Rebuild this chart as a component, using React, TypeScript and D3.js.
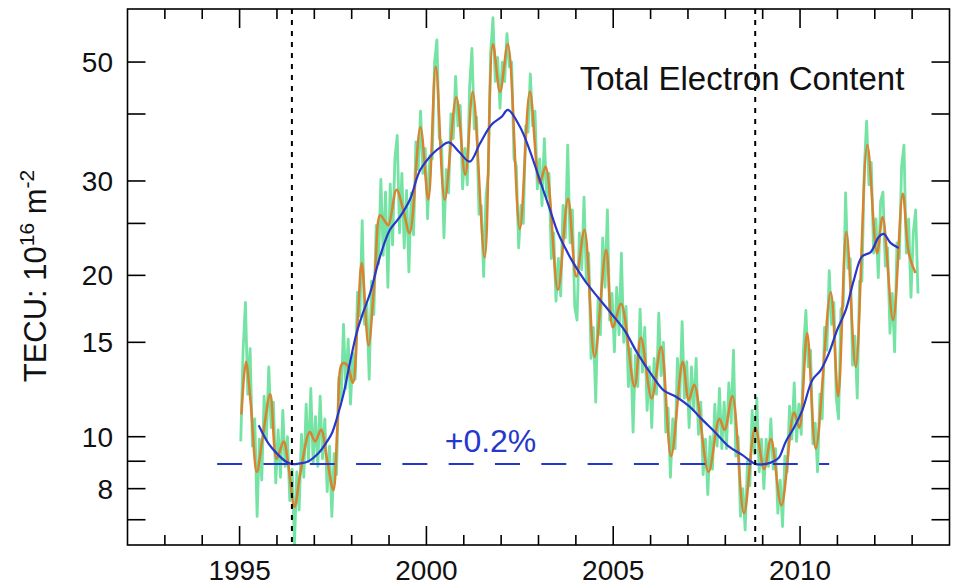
import React from "react";
import * as d3 from "d3";

// ---- data -------------------------------------------------------------
const xDomain: [number, number] = [1992, 2014];
const yDomain: [number, number] = [6.28, 62.8];

const xMinorTicks = [1993, 1994, 1995, 1996, 1997, 1998, 1999, 2000, 2001, 2002, 2003, 2004, 2005, 2006, 2007, 2008, 2009, 2010, 2011, 2012, 2013];
const xMajorTicks = [1995, 2000, 2005, 2010];
const yTicks = [7, 8, 9, 10, 15, 20, 25, 30, 40, 50];
const yTickLabels = [8, 10, 15, 20, 30, 50];

// Daily-ish TEC, 16 samples per year (sample k at year + (k + 0.5) / 16)
const samplesPerYear = 16;
const tec1995 = [9.8, 14.5, 17.8, 12.0, 14.6, 9.6, 10.8, 7.1, 9.9, 8.3, 11.9, 9.9, 13.5, 10.4, 11.6, 8.2];
const tec1996 = [10.3, 8.4, 11.2, 8.8, 10.0, 7.6, 8.7, 6.3, 8.6, 7.3, 10.1, 8.4, 11.5, 9.0, 12.3, 8.9];
const tec1997 = [10.9, 8.8, 11.9, 9.1, 10.8, 7.9, 9.6, 7.1, 9.3, 8.5, 12.9, 11.7, 16.2, 12.3, 15.2, 11.5];
const tec1998 = [14.3, 12.8, 18.6, 16.8, 25.3, 16.2, 17.7, 12.8, 19.5, 16.9, 24.8, 21.0, 30.2, 21.8, 28.6, 19.0];
const tec1999 = [29.6, 22.8, 33.0, 36.5, 24.0, 31.0, 22.5, 28.8, 20.3, 28.5, 23.8, 35.5, 31.5, 40.5, 31.0, 34.5];
const tec2000 = [25.5, 33.5, 33.0, 50.0, 55.0, 36.0, 35.5, 23.5, 31.5, 28.5, 40.0, 36.0, 47.0, 38.0, 41.5, 29.0];
const tec2001 = [34.5, 29.5, 45.0, 53.0, 37.5, 39.5, 26.0, 27.0, 19.9, 28.0, 31.0, 52.0, 60.5, 46.0, 51.0, 41.0];
const tec2002 = [50.0, 46.0, 56.5, 49.0, 50.0, 33.0, 32.0, 22.5, 27.0, 25.0, 38.0, 37.0, 47.5, 38.0, 40.5, 29.0];
const tec2003 = [33.0, 27.0, 36.0, 28.0, 31.0, 21.5, 24.0, 17.9, 21.5, 18.3, 27.0, 23.5, 35.0, 23.0, 26.5, 17.5];
const tec2004 = [16.5, 24.0, 20.5, 28.0, 19.5, 22.0, 14.0, 16.0, 11.6, 18.0, 15.5, 23.5, 19.0, 26.5, 16.5, 18.5];
const tec2005 = [14.4, 19.0, 15.5, 22.0, 15.0, 17.5, 12.4, 14.6, 10.2, 14.2, 12.4, 17.3, 13.2, 16.0, 11.2, 13.5];
const tec2006 = [10.4, 14.0, 12.0, 17.0, 13.0, 15.0, 10.2, 11.3, 8.4, 10.8, 9.5, 14.0, 11.8, 16.4, 11.8, 13.8];
const tec2007 = [10.4, 13.5, 11.2, 14.0, 10.1, 11.6, 8.5, 9.9, 7.8, 10.0, 8.7, 11.5, 9.6, 12.3, 9.5, 11.6];
const tec2008 = [9.5, 12.6, 10.6, 14.5, 9.2, 10.0, 7.1, 8.0, 6.7, 9.0, 8.1, 11.2, 9.3, 11.8, 8.6, 9.9];
const tec2009 = [8.0, 9.9, 8.8, 10.8, 8.7, 9.5, 7.2, 8.3, 6.8, 9.2, 8.6, 11.4, 9.9, 12.6, 9.8, 11.5];
const tec2010 = [10.1, 14.6, 17.2, 13.5, 14.5, 9.7, 10.6, 8.6, 12.0, 10.8, 16.0, 14.5, 20.4, 16.2, 17.8, 11.8];
const tec2011 = [10.8, 17.3, 17.5, 28.5, 20.6, 21.5, 13.6, 15.4, 11.8, 19.5, 19.5, 31.5, 38.8, 29.5, 32.5, 22.0];
const tec2012 = [25.5, 19.8, 27.5, 28.6, 20.8, 22.5, 15.6, 18.5, 14.4, 23.0, 21.5, 32.0, 35.0, 22.0, 25.5, 18.2];
const tec2013 = [24.0, 26.5, 18.5];

const dailyByYear: [number, number[]][] = [
  [1995, tec1995], [1996, tec1996], [1997, tec1997], [1998, tec1998], [1999, tec1999],
  [2000, tec2000], [2001, tec2001], [2002, tec2002], [2003, tec2003], [2004, tec2004],
  [2005, tec2005], [2006, tec2006], [2007, tec2007], [2008, tec2008], [2009, tec2009],
  [2010, tec2010], [2011, tec2011], [2012, tec2012], [2013, tec2013],
];

// Monthly smoothed TEC (year, TECU)
const monthlyTec: [number, number][] = [
  [1995.05, 11.0], [1995.17, 13.8], [1995.30, 11.5], [1995.46, 8.6], [1995.62, 10.0], [1995.82, 12.0],
  [1995.99, 9.1], [1996.18, 9.8], [1996.30, 8.9], [1996.47, 7.4], [1996.62, 8.5], [1996.88, 10.2],
  [1997.02, 9.8], [1997.18, 10.3], [1997.35, 9.0], [1997.51, 7.95], [1997.62, 10.5], [1997.75, 13.7],
  [1997.88, 13.6], [1998.03, 12.6], [1998.15, 16.0], [1998.27, 21.1], [1998.45, 14.8], [1998.62, 20.0],
  [1998.76, 25.9], [1998.88, 25.3], [1998.98, 24.8], [1999.20, 28.9], [1999.38, 26.5], [1999.55, 24.0],
  [1999.84, 37.8], [2000.05, 27.7], [2000.25, 49.0], [2000.49, 27.7], [2000.80, 43.0], [2001.04, 30.8],
  [2001.24, 44.0], [2001.56, 21.6], [2001.78, 54.0], [2001.97, 44.0], [2002.18, 54.0], [2002.50, 24.4],
  [2002.77, 44.0], [2003.03, 29.7], [2003.19, 31.9], [2003.52, 18.8], [2003.79, 27.8], [2004.01, 19.9],
  [2004.23, 24.3], [2004.50, 14.1], [2004.81, 22.3], [2004.99, 16.0], [2005.21, 17.7], [2005.57, 12.4],
  [2005.74, 15.3], [2006.03, 11.8], [2006.28, 14.7], [2006.55, 9.2], [2006.86, 13.8], [2007.02, 11.7],
  [2007.17, 12.5], [2007.55, 8.6], [2007.84, 10.8], [2007.98, 10.3], [2008.19, 11.9], [2008.50, 7.2],
  [2008.80, 10.4], [2009.04, 8.7], [2009.22, 9.9], [2009.50, 7.45], [2009.84, 11.1], [2009.98, 10.4],
  [2010.19, 15.6], [2010.42, 9.5], [2010.82, 18.6], [2011.02, 11.9], [2011.24, 24.1], [2011.49, 13.5],
  [2011.80, 35.0], [2012.06, 22.0], [2012.21, 25.7], [2012.49, 16.5], [2012.75, 28.4], [2012.91, 22.0],
  [2013.09, 20.2],
];

// 12-month running mean (year, TECU)
const runningMean: [number, number][] = [
  [1995.51, 10.5], [1995.77, 9.72], [1996.04, 9.24], [1996.25, 8.98], [1996.4, 8.89], [1996.6, 8.91],
  [1996.85, 9.0], [1997.1, 9.3], [1997.3, 9.7], [1997.47, 10.15], [1997.6, 10.8], [1997.78, 12.0],
  [1997.95, 13.7], [1998.13, 15.6], [1998.3, 17.0], [1998.49, 18.5], [1998.76, 21.7], [1999.02, 24.3],
  [1999.29, 25.7], [1999.56, 27.7], [1999.83, 31.4], [2000.18, 33.8], [2000.38, 34.7], [2000.6, 35.4],
  [2000.89, 33.9], [2001.16, 32.6], [2001.43, 35.2], [2001.74, 38.2], [2002.01, 39.5], [2002.18, 40.7],
  [2002.5, 37.9], [2002.76, 34.3], [2003.03, 30.2], [2003.3, 26.6], [2003.52, 24.0], [2003.7, 22.6],
  [2003.88, 21.4], [2004.23, 19.6], [2004.59, 18.2], [2004.94, 17.0], [2005.3, 15.8], [2005.65, 14.3],
  [2006.01, 13.1], [2006.35, 12.2], [2006.66, 11.9], [2007.03, 11.4], [2007.39, 10.75], [2007.75, 10.15],
  [2008.1, 9.58], [2008.46, 9.24], [2008.8, 8.9], [2009.1, 8.9], [2009.3, 9.0], [2009.44, 9.15],
  [2009.62, 9.8], [2009.84, 10.4], [2010.06, 11.2], [2010.33, 12.76], [2010.55, 13.3], [2010.77, 14.3],
  [2010.99, 15.8], [2011.22, 17.2], [2011.44, 19.6], [2011.66, 21.7], [2011.89, 22.1], [2012.11, 23.6],
  [2012.24, 23.9], [2012.42, 23.0], [2012.64, 22.5],
];

// Solar minima of the running mean and the level line joining them
const solarMinima = [
  { year: 1996.4, value: 8.89 },
  { year: 2008.8, value: 8.9 },
];
const levelSpan: [number, number] = [1994.4, 2010.78];
const trendLabel = "+0.2%";
const title = "Total Electron Content";

// ---- layout -----------------------------------------------------------
const W = 956;
const H = 585;
const plot = { left: 127.5, right: 949.5, top: 9, bottom: 545 };
const FONT = "'Liberation Sans', Arial, Helvetica, sans-serif";

const GREEN = "#74e3a3";
const ORANGE = "#d8832f";
const BLUE = "#2638cc";

export default function App() {
  const x = d3.scaleLinear().domain(xDomain).range([plot.left, plot.right]);
  const y = d3.scaleLog().domain(yDomain).range([plot.bottom, plot.top]);

  const daily: [number, number][] = [];
  dailyByYear.forEach(([yr, vals]) =>
    vals.forEach((v, k) => daily.push([yr + (k + 0.5) / samplesPerYear, v]))
  );

  const lineLinear = d3
    .line<[number, number]>()
    .x((d) => x(d[0]))
    .y((d) => y(d[1]));
  const lineSmooth = d3
    .line<[number, number]>()
    .x((d) => x(d[0]))
    .y((d) => y(d[1]))
    .curve(d3.curveCatmullRom.alpha(0.5));

  const levelY = y(solarMinima[0].value);

  return (
    <svg
      width={W}
      height={H}
      viewBox={`0 0 ${W} ${H}`}
      style={{ position: "absolute", left: 0, top: 0, background: "#fff" }}
      fontFamily={FONT}
    >
      <defs>
        <clipPath id="plot-area">
          <rect x={plot.left} y={plot.top} width={plot.right - plot.left} height={plot.bottom - plot.top} />
        </clipPath>
      </defs>

      <g clipPath="url(#plot-area)">
        <path d={lineLinear(daily) ?? ""} fill="none" stroke={GREEN} strokeWidth={2.8} strokeLinejoin="round" />
        <path d={lineSmooth(monthlyTec) ?? ""} fill="none" stroke={ORANGE} strokeWidth={2.5} strokeLinejoin="round" />
        <path d={lineSmooth(runningMean) ?? ""} fill="none" stroke={BLUE} strokeWidth={2.2} strokeLinejoin="round" />

        {/* level line between the two minima */}
        <line
          x1={x(levelSpan[0])}
          x2={x(levelSpan[1])}
          y1={levelY}
          y2={levelY}
          stroke={BLUE}
          strokeWidth={2}
          strokeDasharray="25 21.3"
        />

        {/* vertical markers at the minima */}
        {solarMinima.map((m) => (
          <line
            key={m.year}
            x1={x(m.year)}
            x2={x(m.year)}
            y1={plot.top}
            y2={plot.bottom}
            stroke="#000"
            strokeWidth={2}
            strokeDasharray="5 6"
          />
        ))}
      </g>

      <text x={490.5} y={452} fill={BLUE} fontSize={32} textAnchor="middle">
        {trendLabel}
      </text>
      <text x={742} y={90} fill="#111" fontSize={33} textAnchor="middle">
        {title}
      </text>

      {/* frame */}
      <rect
        x={plot.left}
        y={plot.top}
        width={plot.right - plot.left}
        height={plot.bottom - plot.top}
        fill="none"
        stroke="#000"
        strokeWidth={1.6}
      />

      {/* x ticks (bottom and top) */}
      {xMinorTicks.map((t) => {
        const len = xMajorTicks.includes(t) ? 19 : 10;
        return (
          <g key={`xt${t}`} stroke="#000" strokeWidth={1.6}>
            <line x1={x(t)} x2={x(t)} y1={plot.bottom} y2={plot.bottom - len} />
            <line x1={x(t)} x2={x(t)} y1={plot.top} y2={plot.top + len} />
          </g>
        );
      })}
      {xMajorTicks.map((t) => (
        <text key={`xl${t}`} x={x(t)} y={580} fontSize={28} textAnchor="middle" fill="#111">
          {t}
        </text>
      ))}

      {/* y ticks (left and right) */}
      {yTicks.map((t) => (
        <g key={`yt${t}`} stroke="#000" strokeWidth={1.6}>
          <line x1={plot.left} x2={plot.left + 18} y1={y(t)} y2={y(t)} />
          <line x1={plot.right} x2={plot.right - 18} y1={y(t)} y2={y(t)} />
        </g>
      ))}
      {yTickLabels.map((t) => (
        <text
          key={`yl${t}`}
          x={113}
          y={y(t)}
          dy="0.36em"
          fontSize={28}
          textAnchor="end"
          fill="#111"
        >
          {t}
        </text>
      ))}

      {/* y-axis title */}
      <text transform="translate(46,276) rotate(-90)" textAnchor="middle" fontSize={31} fill="#111">
        TECU: 10
        <tspan fontSize={21} dy={-12}>16</tspan>
        <tspan dy={12}> m</tspan>
        <tspan fontSize={21} dy={-12}>-2</tspan>
      </text>
    </svg>
  );
}
